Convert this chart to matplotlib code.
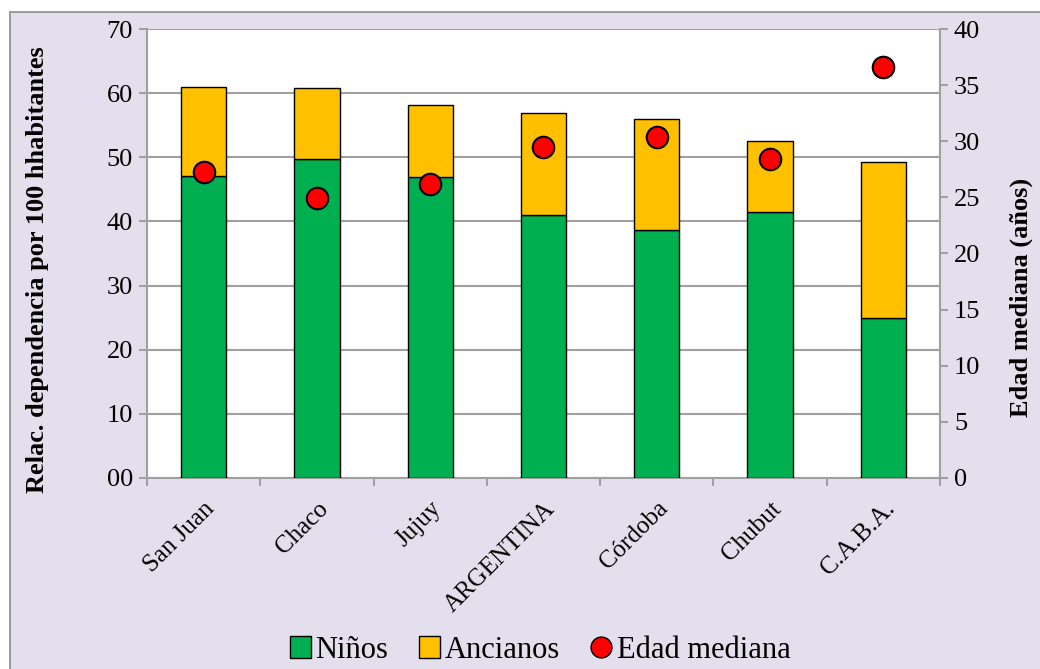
import matplotlib
matplotlib.use("Agg")
import matplotlib.pyplot as plt
import matplotlib.transforms as mtransforms
import numpy as np
from matplotlib.patches import Rectangle
from matplotlib.ticker import FuncFormatter
from matplotlib.lines import Line2D
from matplotlib.patches import Patch

categorias = ["San Juan", "Chaco", "Jujuy", "ARGENTINA", "Córdoba", "Chubut", "C.A.B.A."]
ninos = [47.1, 49.7, 46.9, 41.0, 38.7, 41.5, 24.9]
ancianos = [13.9, 11.1, 11.3, 15.9, 17.3, 11.0, 24.4]
edad_mediana = [27.3, 24.9, 26.2, 29.5, 30.4, 28.4, 36.6]

VERDE = "#00B050"
AMARILLO = "#FFC000"
ROJO = "#FF0000"
FONDO = "#E4DFEC"
GRIS = "#A0A0A0"

plt.rcParams["font.family"] = ["Liberation Serif", "DejaVu Serif"]

fig = plt.figure(figsize=(10.4, 6.69), dpi=100)
fig.patch.set_facecolor("white")
W, H = 1040, 669
fig.patches.append(Rectangle((10 / W, -0.01), 1 - 10 / W + 0.01, 1 - 12 / H + 0.01,
                             transform=fig.transFigure, facecolor=FONDO,
                             edgecolor="#8C8C8C", linewidth=1.2, zorder=-1))

ax = fig.add_axes([147 / W, 1 - 478 / H, (940 - 147) / W, (478 - 29) / H])
ax.set_facecolor("white")
x = np.arange(len(categorias))
ax.bar(x, ninos, width=0.4, color=VERDE, edgecolor="black", linewidth=1, zorder=3)
ax.bar(x, ancianos, width=0.4, bottom=ninos, color=AMARILLO, edgecolor="black",
       linewidth=1, zorder=3)
ax.set_xlim(-0.5, len(categorias) - 0.5)
ax.set_ylim(0, 70)
ax.set_yticks(np.arange(0, 71, 10))
ax.yaxis.set_major_formatter(FuncFormatter(lambda v, p: f"{int(v):02d}"))
ax.grid(axis="y", color=GRIS, linewidth=1.5, zorder=0)
ax.set_axisbelow(True)
ax.set_xticks(np.arange(-0.5, len(categorias), 1))
ax.set_xticklabels([])
ax.set_xticks(x, minor=True)
labels = ax.set_xticklabels(categorias, minor=True, rotation=45, ha="right",
                            rotation_mode="anchor", fontsize=18)
shift = mtransforms.ScaledTranslation(-8 / 100, 0, fig.dpi_scale_trans)
for lb in labels:
    lb.set_transform(lb.get_transform() + shift)
ax.tick_params(axis="x", which="minor", length=0, pad=14)
ax.tick_params(axis="x", which="major", length=6, color=GRIS, width=1.5)
ax.tick_params(axis="y", length=6, color=GRIS, width=1.5, labelsize=19, pad=4)
for s in ["top", "right"]:
    ax.spines[s].set_visible(False)
for s in ["left", "bottom"]:
    ax.spines[s].set_color(GRIS)
    ax.spines[s].set_linewidth(1.5)
ax.set_ylabel("Relac. dependencia por 100 hhabitantes", fontsize=19,
              fontweight="bold")
ax.yaxis.set_label_coords(-0.124, 0.465)

ax2 = ax.twinx()
ax2.set_ylim(0, 40)
ax2.set_yticks(np.arange(0, 41, 5))
ax2.scatter(x, edad_mediana, s=240, color=ROJO, edgecolor="black",
            linewidth=1.5, zorder=5)
for s in ["top", "left", "bottom"]:
    ax2.spines[s].set_visible(False)
ax2.spines["right"].set_color(GRIS)
ax2.spines["right"].set_linewidth(1.5)
ax2.tick_params(axis="y", length=6, color=GRIS, width=1.5, labelsize=19, pad=4)
ax2.set_ylabel("Edad mediana (años)", fontsize=19, fontweight="bold")
ax2.yaxis.set_label_coords(1.088, 0.403)

handles = [
    Patch(facecolor=VERDE, edgecolor="black", label="Niños"),
    Patch(facecolor=AMARILLO, edgecolor="black", label="Ancianos"),
    Line2D([], [], marker="o", linestyle="none", markerfacecolor=ROJO,
           markeredgecolor="black", markersize=15, label="Edad mediana"),
]
fig.legend(handles=handles, loc="center", bbox_to_anchor=(540 / W, 1 - 650 / H),
           ncol=3, frameon=False, fontsize=22, handlelength=0.7,
           handleheight=0.7, handletextpad=0.15, columnspacing=1.0)

fig.savefig("out.png", dpi=100)
